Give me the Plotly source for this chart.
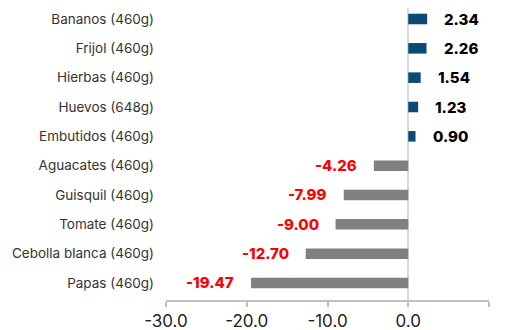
import plotly.graph_objects as go

categories = ["Bananos (460g)", "Frijol (460g)", "Hierbas (460g)", "Huevos (648g)",
              "Embutidos (460g)", "Aguacates (460g)", "Guisquil (460g)", "Tomate (460g)",
              "Cebolla blanca (460g)", "Papas (460g)"]
values = [2.34, 2.26, 1.54, 1.23, 0.90, -4.26, -7.99, -9.00, -12.70, -19.47]
x_ticks = [-30, -20, -10, 0, 10]
x_tick_labels = ["-30.0", "-20.0", "-10.0", "0.0", "10.0"]

colors = ["#0B4A73" if v >= 0 else "#808080" for v in values]

fig = go.Figure()
fig.add_trace(go.Bar(
    x=values, y=categories, orientation="h",
    marker=dict(color=colors, line=dict(width=0)),
    width=0.36, hoverinfo="skip",
))

for c, v in zip(categories, values):
    pos = v >= 0
    fig.add_annotation(
        x=v, y=c, text=f"{v:.2f}", showarrow=False,
        xanchor="left" if pos else "right",
        xshift=15 if pos else -15,
        font=dict(family="Inter", size=15, color="#000000" if pos else "#FF0000",
                  weight=800),
    )

# page body adds an 8px offset; figure sized/margined to compensate
fig.update_layout(
    width=497, height=322,
    margin=dict(l=158, r=16, t=0, b=30),
    paper_bgcolor="white", plot_bgcolor="white",
    showlegend=False,
    font=dict(family="Inter", color="#333333"),
    xaxis=dict(
        range=[-30, 10], tickvals=x_ticks, ticktext=x_tick_labels,
        showgrid=False, zeroline=True, zerolinecolor="#d9d9d9", zerolinewidth=2,
        showline=True, linecolor="#bfbfbf", linewidth=2,
        ticks="outside", ticklen=5, tickcolor="#bfbfbf", tickwidth=2,
        tickfont=dict(size=17, color="#222222"), fixedrange=True, automargin=False,
    ),
    yaxis=dict(
        categoryorder="array", categoryarray=categories[::-1],
        range=[-0.58, 9.375],
        showgrid=False, zeroline=False, showline=False, ticks="",
        ticklabelstandoff=11, automargin=False,
        tickfont=dict(size=13.5, color="#333333"), fixedrange=True,
    ),
)

fig.write_html("out.html")
